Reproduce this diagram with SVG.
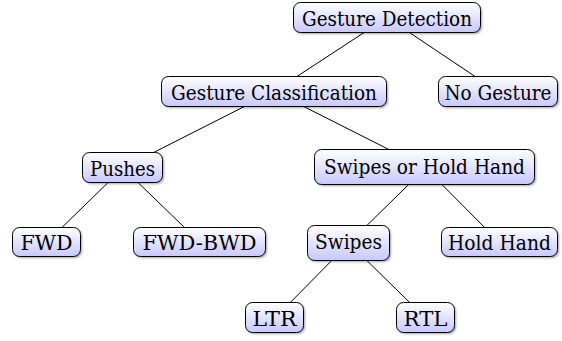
<svg xmlns="http://www.w3.org/2000/svg" width="562" height="341" viewBox="0 0 562 341">
<style>
.box{fill:url(#g);stroke:#000;stroke-width:1}
.sh{fill:#000;opacity:0.35;filter:url(#blur)}
.t{font-family:'DejaVu Serif','Liberation Serif',serif;font-size:21px;text-anchor:middle;fill:#000}
.e{stroke:#000;stroke-width:1;fill:none}
</style>
<defs>
<linearGradient id="g" x1="0" y1="0" x2="0" y2="1">
<stop offset="0" stop-color="#ffffff"/>
<stop offset="1" stop-color="#c8c8ff"/>
</linearGradient>
<filter id="blur" x="-10%" y="-10%" width="120%" height="130%"><feGaussianBlur stdDeviation="0.8"/></filter>
</defs>
<rect width="562" height="341" fill="#fff"/>
<g id="connectors">
<line class="e" x1="387" y1="17.5" x2="274" y2="91.5"/>
<line class="e" x1="387" y1="17.5" x2="497.5" y2="91.5"/>
<line class="e" x1="274" y1="91.5" x2="123" y2="168"/>
<line class="e" x1="274" y1="91.5" x2="425.5" y2="168"/>
<line class="e" x1="123" y1="168" x2="47" y2="242"/>
<line class="e" x1="123" y1="168" x2="199.5" y2="242"/>
<line class="e" x1="425.5" y1="168" x2="349" y2="243"/>
<line class="e" x1="425.5" y1="168" x2="499" y2="242"/>
<line class="e" x1="349" y1="243" x2="275" y2="318"/>
<line class="e" x1="349" y1="243" x2="425.5" y2="318"/>
</g>
<g id="n-gesture-detection">
<rect class="sh" x="295" y="4" width="187" height="30" rx="7"/>
<rect class="box" x="293.5" y="2.5" width="187" height="30" rx="7"/>
<text class="t" x="387" y="26" textLength="170" lengthAdjust="spacingAndGlyphs">Gesture Detection</text>
</g>
<g id="n-gesture-classification">
<rect class="sh" x="163" y="78" width="225" height="30" rx="7"/>
<rect class="box" x="161.5" y="76.5" width="225" height="30" rx="7"/>
<text class="t" x="274" y="100" textLength="206" lengthAdjust="spacingAndGlyphs">Gesture Classification</text>
</g>
<g id="n-no-gesture">
<rect class="sh" x="440" y="78" width="119" height="30" rx="7"/>
<rect class="box" x="438.5" y="76.5" width="119" height="30" rx="7"/>
<text class="t" x="498" y="100" textLength="107" lengthAdjust="spacingAndGlyphs">No Gesture</text>
</g>
<g id="n-pushes">
<rect class="sh" x="84" y="154" width="80" height="30" rx="7"/>
<rect class="box" x="82.5" y="152.5" width="80" height="30" rx="7"/>
<text class="t" x="122.5" y="176" textLength="65" lengthAdjust="spacingAndGlyphs">Pushes</text>
</g>
<g id="n-swipes-or-hold-hand">
<rect class="sh" x="316" y="151" width="220" height="35" rx="7"/>
<rect class="box" x="314.5" y="149.5" width="220" height="35" rx="7"/>
<text class="t" x="424.5" y="174" textLength="201" lengthAdjust="spacingAndGlyphs">Swipes or Hold Hand</text>
</g>
<g id="n-fwd">
<rect class="sh" x="14" y="229" width="68" height="29" rx="7"/>
<rect class="box" x="12.5" y="227.5" width="68" height="29" rx="7"/>
<text class="t" x="46.5" y="250" textLength="52" lengthAdjust="spacingAndGlyphs">FWD</text>
</g>
<g id="n-fwd-bwd">
<rect class="sh" x="135" y="229" width="132" height="29" rx="7"/>
<rect class="box" x="133.5" y="227.5" width="132" height="29" rx="7"/>
<text class="t" x="199.5" y="250" textLength="114" lengthAdjust="spacingAndGlyphs">FWD-BWD</text>
</g>
<g id="n-swipes">
<rect class="sh" x="309" y="227" width="82" height="35" rx="7"/>
<rect class="box" x="307.5" y="225.5" width="82" height="35" rx="7"/>
<text class="t" x="348.5" y="249" textLength="67" lengthAdjust="spacingAndGlyphs">Swipes</text>
</g>
<g id="n-hold-hand">
<rect class="sh" x="443" y="229" width="116" height="29" rx="7"/>
<rect class="box" x="441.5" y="227.5" width="116" height="29" rx="7"/>
<text class="t" x="499.5" y="250" textLength="103" lengthAdjust="spacingAndGlyphs">Hold Hand</text>
</g>
<g id="n-ltr">
<rect class="sh" x="247" y="304" width="58" height="30" rx="7"/>
<rect class="box" x="245.5" y="302.5" width="58" height="30" rx="7"/>
<text class="t" x="274.5" y="326" textLength="44" lengthAdjust="spacingAndGlyphs">LTR</text>
</g>
<g id="n-rtl">
<rect class="sh" x="398" y="304" width="58" height="30" rx="7"/>
<rect class="box" x="396.5" y="302.5" width="58" height="30" rx="7"/>
<text class="t" x="425.5" y="326" textLength="44" lengthAdjust="spacingAndGlyphs">RTL</text>
</g>
</svg>
